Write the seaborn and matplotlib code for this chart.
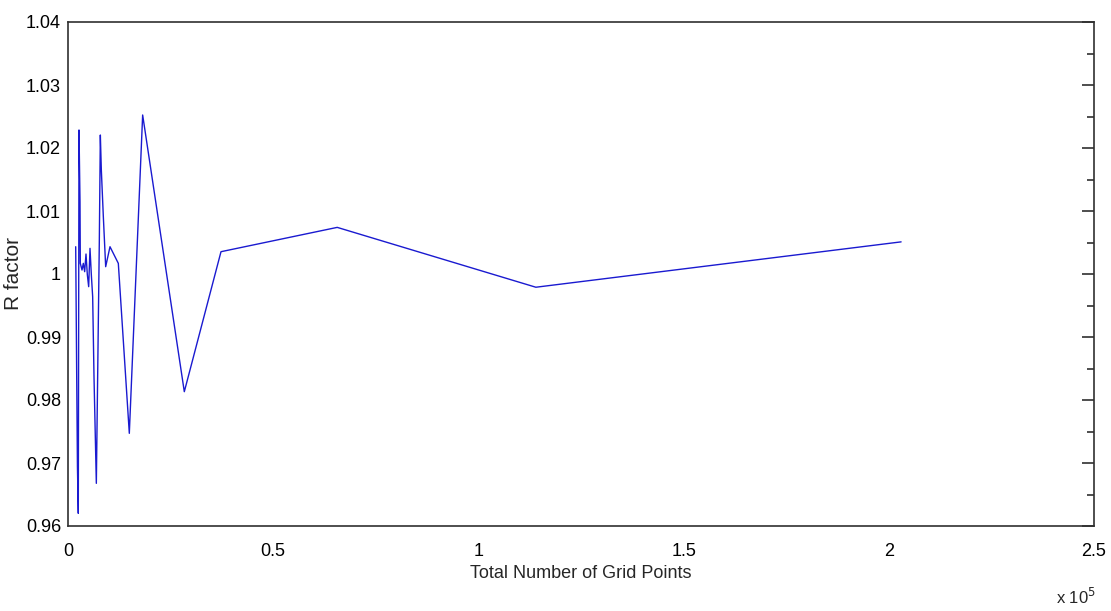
import matplotlib
matplotlib.use("Agg")
import matplotlib.pyplot as plt
import seaborn as sns
import pandas as pd

# Grid convergence: R factor versus total number of grid points
grid_points = [1876, 2120, 2300, 2510, 2680, 2924, 3000, 3411, 3736, 4061,
               4386, 4711, 5036, 5360, 5685, 6010, 6335, 6904, 7635, 7880,
               8122, 8610, 9180, 10234, 12260, 14940, 18190, 28340, 37280,
               65600, 114000, 203000]
r_factor = [1.00433, 0.98370, 0.96941, 0.96201, 1.02286, 1.01148, 1.00169,
            1.00063, 1.00169, 1.00037, 1.00317, 0.99989, 0.99799, 1.00407,
            0.99989, 0.99640, 0.98370, 0.96677, 1.00540, 1.02206, 1.01651,
            1.00910, 1.00116, 1.00433, 1.00169, 0.97471, 1.02524, 0.98132,
            1.00354, 1.00740, 0.99790, 1.00510]

x_ticks = [0, 0.5e5, 1.0e5, 1.5e5, 2.0e5, 2.5e5]
x_tick_labels = ["0", "0.5", "1", "1.5", "2", "2.5"]
y_ticks = [0.96, 0.97, 0.98, 0.99, 1.00, 1.01, 1.02, 1.03, 1.04]
y_tick_labels = ["0.96", "0.97", "0.98", "0.99", "1", "1.01", "1.02", "1.03", "1.04"]

sns.set_style("white")
plt.rcParams["font.family"] = ["Liberation Sans", "DejaVu Sans"]

df = pd.DataFrame({"points": grid_points, "r": r_factor})

fig = plt.figure(figsize=(11.11, 6.11), dpi=100)
ax = fig.add_axes([68 / 1111, 85 / 611, 1026 / 1111, 504 / 611])

sns.lineplot(data=df, x="points", y="r", ax=ax, sort=False,
             color="#1a1ad0", linewidth=1.0)

ax.set_xlim(0, 2.5e5)
ax.set_ylim(0.96, 1.04)
ax.set_xticks(x_ticks)
ax.set_xticklabels(x_tick_labels)
ax.set_yticks(y_ticks)
ax.set_yticklabels(y_tick_labels)
ax.set_yticks([0.965, 0.975, 0.985, 0.995, 1.005, 1.015, 1.025, 1.035], minor=True)

ax.tick_params(axis="y", which="major", direction="in", length=9, width=1.2,
               color="#303030", right=True, labelsize=13, labelcolor="black",
               pad=5)
ax.tick_params(axis="y", which="minor", direction="in", length=5, width=1.2,
               color="#303030", right=True)
ax.tick_params(axis="x", which="major", direction="in", length=0,
               labelsize=13, labelcolor="black", pad=12)

for side in ax.spines.values():
    side.set_visible(True)
    side.set_color("#303030")
    side.set_linewidth(1.2)

ax.set_xlabel("Total Number of Grid Points", fontsize=13, labelpad=4)
ax.set_ylabel("R factor", fontsize=15)
ax.yaxis.set_label_coords(-45 / 1026, 0.5)

fig.text(1056 / 1111, 1 - 604 / 611, r"x 10$^{5}$", fontsize=12,
         ha="left", va="baseline")

fig.savefig("out.png", dpi=100, facecolor="white")
